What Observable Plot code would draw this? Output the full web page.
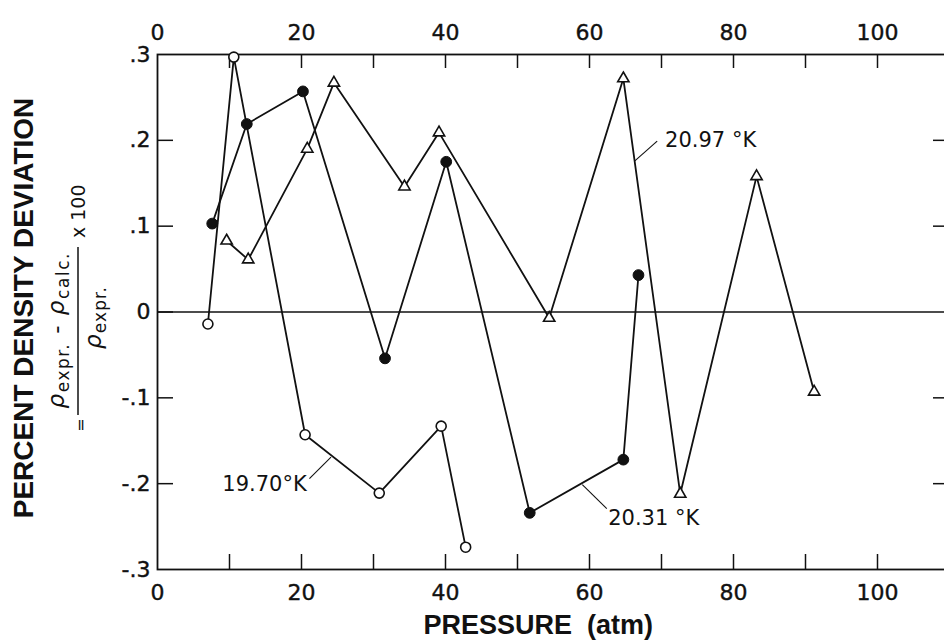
<!DOCTYPE html>
<html><head><meta charset="utf-8">
<script src="https://cdn.jsdelivr.net/npm/d3@7"></script>
<script src="https://cdn.jsdelivr.net/npm/@observablehq/plot@0.6"></script>
<style>html,body{margin:0;padding:0;background:#fff;overflow:hidden;width:944px;height:644px}svg{max-width:none!important}</style>
</head><body><div id="chart"></div>
<script>
// ---- data ----
const pressure1970 = [7.0, 10.6, 20.5, 30.8, 39.4, 42.8];
const deviation1970 = [-0.014, 0.297, -0.143, -0.211, -0.133, -0.274];

const pressure2031 = [7.6, 12.4, 20.2, 31.6, 40.1, 51.7, 64.7, 66.8];
const deviation2031 = [0.103, 0.219, 0.257, -0.054, 0.175, -0.234, -0.172, 0.043];

const pressure2097 = [9.6, 12.6, 20.8, 24.5, 34.3, 39.1, 54.4, 64.7, 72.6, 83.2, 91.2];
const deviation2097 = [0.083, 0.061, 0.190, 0.267, 0.146, 0.209, -0.007, 0.272, -0.212, 0.158, -0.093];

const xTickValues = [10, 20, 30, 40, 50, 60, 70, 80, 90, 100];
const xTickLabels = [0, 20, 40, 60, 80, 100];
const yTickValues = [0.2, 0.1, 0, -0.1, -0.2];
const yLabelValues = [0.3, 0.2, 0.1, 0, -0.1, -0.2, -0.3];
const yTickLabels = [".3", ".2", ".1", "0", "-.1", "-.2", "-.3"];

const seriesNames = ["19.70 °K", "20.31 °K", "20.97 °K"];
const labelText = ["19.70°K", "20.31 °K", "20.97 °K"];
const labelX = [9.0, 62.6, 70.5];
const labelY = [-0.201, -0.240, 0.200];
const leaderX1 = [21.1, 59.0, 66.3];
const leaderY1 = [-0.194, -0.201, 0.176];
const leaderX2 = [24.1, 62.4, 69.4];
const leaderY2 = [-0.169, -0.229, 0.199];

// ---- tables ----
const pressures = [pressure1970, pressure2031, pressure2097];
const deviations = [deviation1970, deviation2031, deviation2097];
const rows = seriesNames.flatMap((s, k) => pressures[k].map((p, i) => ({series: s, p, d: deviations[k][i]})));
const only = s => rows.filter(r => r.series === s);
const labels = labelText.map((t, i) => ({t, x: labelX[i], y: labelY[i]}));
const leaders = leaderX1.map((x1, i) => ({x1, y1: leaderY1[i], x2: leaderX2[i], y2: leaderY2[i]}));
const yLabels = yLabelValues.map((v, i) => ({v, t: yTickLabels[i]}));

const ink = "#111";
const W = 960, H = 644, mL = 157, mR = 11, mT = 54, mB = 75;
const pw = W - mL - mR, ph = H - mT - mB;

const plot = Plot.plot({
  width: W, height: H,
  marginLeft: mL, marginRight: mR, marginTop: mT, marginBottom: mB,
  style: {fontFamily: "DejaVu Sans", background: "white", overflow: "visible", maxWidth: "none"},
  x: {domain: [0, 110], axis: null},
  y: {domain: [-0.3, 0.3], axis: null},
  marks: [
    Plot.frame({stroke: ink, strokeWidth: 1.8}),
    Plot.ruleY([0], {stroke: ink, strokeWidth: 1.5}),
    // inward tick marks
    Plot.tickX(xTickValues, {x: d => d, insetTop: ph - 15, stroke: ink, strokeWidth: 1.5}),
    Plot.tickX(xTickValues, {x: d => d, insetBottom: ph - 14, stroke: ink, strokeWidth: 1.5}),
    Plot.tickY(yTickValues, {y: d => d, insetRight: pw - 16, stroke: ink, strokeWidth: 1.5}),
    Plot.tickY(yTickValues.filter(d => d !== 0), {y: d => d, insetLeft: pw - 16, stroke: ink, strokeWidth: 1.5}),
    // tick labels
    Plot.text(xTickLabels, {x: d => d, frameAnchor: "top", dy: -30, text: d => String(d), fontSize: 22, fill: ink, stroke: ink, strokeWidth: 0.4}),
    Plot.text(xTickLabels, {x: d => d, frameAnchor: "bottom", dy: 30, text: d => String(d), fontSize: 22, fill: ink, stroke: ink, strokeWidth: 0.4}),
    Plot.text(yLabels, {y: "v", frameAnchor: "left", dx: -7, textAnchor: "end", text: "t", fontSize: 22, fill: ink, stroke: ink, strokeWidth: 0.4}),
    // axis titles
    Plot.text(["PRESSURE\u00a0\u00a0(atm)"], {frameAnchor: "bottom-left", dx: 266, dy: 64, textAnchor: "start",
      fontFamily: "Liberation Sans", fontWeight: "bold", fontSize: 27, fill: ink}),
    Plot.text(["PERCENT DENSITY DEVIATION"], {frameAnchor: "left", dx: -133, dy: -4, rotate: -90, textAnchor: "middle",
      fontFamily: "Liberation Sans", fontWeight: "bold", fontSize: 28, fill: ink}),
    // series lines
    Plot.line(rows, {x: "p", y: "d", z: "series", stroke: ink, strokeWidth: 1.8}),
    Plot.link(leaders, {x1: "x1", y1: "y1", x2: "x2", y2: "y2", stroke: ink, strokeWidth: 1.1}),
    Plot.dot(only(seriesNames[0]), {x: "p", y: "d", r: 5, fill: "white", stroke: ink, strokeWidth: 1.6}),
    Plot.dot(only(seriesNames[1]), {x: "p", y: "d", r: 5.4, fill: ink, stroke: ink, strokeWidth: 1}),
    Plot.dot(only(seriesNames[2]), {x: "p", y: "d", r: 4.2, symbol: "triangle", fill: "white", stroke: ink, strokeWidth: 1.6}),
    Plot.text(labels, {x: "x", y: "y", text: "t", textAnchor: "start", fontSize: 21, fill: ink})
  ]
});
plot.style.maxWidth = "none";
document.getElementById("chart").appendChild(plot);

// formula:  = (rho_expr. - rho_calc.) / rho_expr.  x 100   (rotated)
const svg = d3.select(plot);
const g = svg.append("g").attr("transform", "translate(78,331) rotate(-90)")
  .attr("fill", ink).attr("font-family", "DejaVu Sans");
g.append("line").attr("x1", -84).attr("x2", 84).attr("y1", 0).attr("y2", 0)
  .attr("stroke", ink).attr("stroke-width", 1.5);
g.append("text").attr("x", -94).attr("y", 8).attr("text-anchor", "middle").attr("font-size", 16).text("=");
const num = g.append("text").attr("x", 0).attr("y", -14).attr("text-anchor", "middle")
  .attr("font-size", 23).attr("textLength", 155).attr("lengthAdjust", "spacing");
num.append("tspan").attr("font-style", "italic").text("ρ");
num.append("tspan").attr("font-size", 17).attr("dy", 5).text("expr.");
num.append("tspan").attr("dy", -5).text(" - ");
num.append("tspan").attr("font-style", "italic").text("ρ");
num.append("tspan").attr("font-size", 17).attr("dy", 5).text("calc.");
const den = g.append("text").attr("x", 13).attr("y", 23).attr("text-anchor", "middle")
  .attr("font-size", 23).attr("textLength", 62).attr("lengthAdjust", "spacing");
den.append("tspan").attr("font-style", "italic").text("ρ");
den.append("tspan").attr("font-size", 17).attr("dy", 5).text("expr.");
g.append("text").attr("x", 93).attr("y", 7).attr("text-anchor", "start").attr("font-size", 19).text("x 100");
</script>
</body></html>
